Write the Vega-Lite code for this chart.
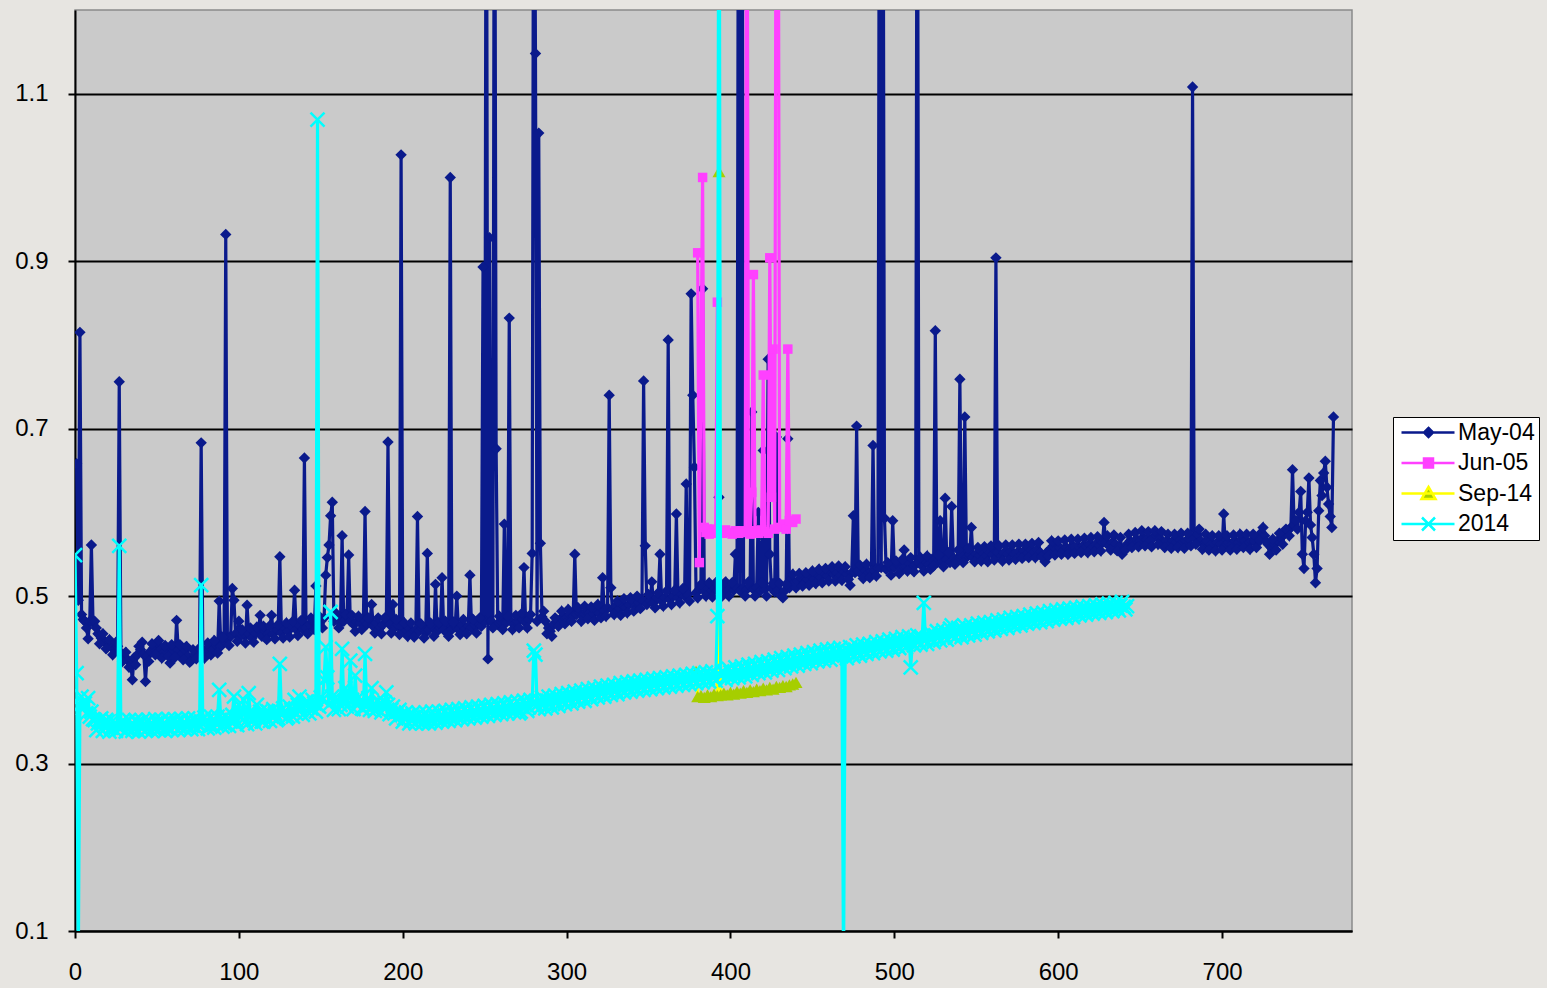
{
"$schema": "https://vega.github.io/schema/vega-lite/v6.json",
"width": 1277,
"height": 921,
"autosize": {"type": "none"},
"padding": {"left": 75, "top": 10, "right": 195, "bottom": 57},
"background": "#E7E5E1",
"config": {
  "view": {"fill": "#CACACA", "stroke": "#8A8A8A", "strokeWidth": 1.5},
  "font": "Liberation Sans",
  "axis": {"labelFont": "Liberation Sans", "labelFontSize": 24, "labelColor": "#000000", "domainColor": "#000000", "domainWidth": 2, "tickColor": "#000000", "tickWidth": 2, "tickSize": 7, "title": null}
},
"datasets": {
"may": [
{"x":1,"y":0.658},{"x":2,"y":0.495},{"x":3,"y":0.815},{"x":4,"y":0.478},{"x":5,"y":0.472},{"x":6,"y":0.47},{"x":7,"y":0.462},{"x":8,"y":0.449},{"x":9,"y":0.47},{"x":10,"y":0.561},{"x":11,"y":0.468},{"x":12,"y":0.47},{"x":14,"y":0.455},{"x":16,"y":0.45},{"x":18,"y":0.446},{"x":20,"y":0.442},{"x":22,"y":0.44},{"x":24,"y":0.436},{"x":26,"y":0.44},{"x":27,"y":0.756},{"x":28,"y":0.432},{"x":30,"y":0.428},{"x":32,"y":0.424},{"x":34,"y":0.42},{"x":35,"y":0.4},{"x":36,"y":0.426},{"x":38,"y":0.43},{"x":40,"y":0.436},{"x":41,"y":0.445},{"x":42,"y":0.43},{"x":43,"y":0.398},{"x":44,"y":0.428},{"x":46,"y":0.434},{"x":48,"y":0.438},{"x":50,"y":0.444},{"x":52,"y":0.436},{"x":54,"y":0.432},{"x":56,"y":0.438},{"x":58,"y":0.42},{"x":60,"y":0.434},{"x":62,"y":0.471},{"x":63,"y":0.436},{"x":65,"y":0.43},{"x":67,"y":0.436},{"x":69,"y":0.428},{"x":71,"y":0.423},{"x":73,"y":0.43},{"x":75,"y":0.434},{"x":77,"y":0.683},{"x":78,"y":0.432},{"x":80,"y":0.436},{"x":82,"y":0.44},{"x":84,"y":0.436},{"x":86,"y":0.442},{"x":88,"y":0.494},{"x":89,"y":0.44},{"x":91,"y":0.446},{"x":92,"y":0.932},{"x":93,"y":0.45},{"x":95,"y":0.452},{"x":96,"y":0.509},{"x":97,"y":0.495},{"x":98,"y":0.455},{"x":100,"y":0.47},{"x":101,"y":0.452},{"x":103,"y":0.456},{"x":105,"y":0.489},{"x":106,"y":0.455},{"x":108,"y":0.45},{"x":110,"y":0.456},{"x":112,"y":0.46},{"x":113,"y":0.477},{"x":114,"y":0.452},{"x":116,"y":0.458},{"x":118,"y":0.455},{"x":120,"y":0.477},{"x":121,"y":0.455},{"x":123,"y":0.46},{"x":125,"y":0.547},{"x":126,"y":0.456},{"x":128,"y":0.462},{"x":130,"y":0.458},{"x":132,"y":0.464},{"x":134,"y":0.507},{"x":135,"y":0.46},{"x":137,"y":0.465},{"x":139,"y":0.46},{"x":140,"y":0.665},{"x":141,"y":0.462},{"x":143,"y":0.466},{"x":145,"y":0.47},{"x":147,"y":0.512},{"x":148,"y":0.466},{"x":150,"y":0.47},{"x":152,"y":0.474},{"x":153,"y":0.525},{"x":154,"y":0.546},{"x":155,"y":0.561},{"x":156,"y":0.596},{"x":157,"y":0.612},{"x":158,"y":0.47},{"x":160,"y":0.475},{"x":162,"y":0.468},{"x":163,"y":0.572},{"x":164,"y":0.47},{"x":166,"y":0.476},{"x":167,"y":0.549},{"x":168,"y":0.47},{"x":170,"y":0.466},{"x":172,"y":0.47},{"x":174,"y":0.468},{"x":176,"y":0.472},{"x":177,"y":0.601},{"x":178,"y":0.466},{"x":180,"y":0.47},{"x":181,"y":0.49},{"x":182,"y":0.464},{"x":184,"y":0.468},{"x":186,"y":0.462},{"x":188,"y":0.466},{"x":190,"y":0.47},{"x":191,"y":0.684},{"x":192,"y":0.466},{"x":194,"y":0.49},{"x":195,"y":0.462},{"x":197,"y":0.466},{"x":199,"y":1.027},{"x":200,"y":0.462},{"x":202,"y":0.458},{"x":204,"y":0.462},{"x":206,"y":0.456},{"x":208,"y":0.46},{"x":209,"y":0.595},{"x":210,"y":0.458},{"x":212,"y":0.462},{"x":214,"y":0.456},{"x":215,"y":0.551},{"x":216,"y":0.46},{"x":218,"y":0.464},{"x":220,"y":0.514},{"x":221,"y":0.458},{"x":223,"y":0.462},{"x":224,"y":0.522},{"x":225,"y":0.46},{"x":227,"y":0.456},{"x":229,"y":1.0},{"x":230,"y":0.46},{"x":232,"y":0.464},{"x":233,"y":0.5},{"x":234,"y":0.46},{"x":236,"y":0.466},{"x":238,"y":0.46},{"x":240,"y":0.464},{"x":241,"y":0.525},{"x":242,"y":0.462},{"x":244,"y":0.466},{"x":246,"y":0.468},{"x":248,"y":0.464},{"x":249,"y":0.893},{"x":250,"y":0.47},{"x":251,"y":1.6},{"x":252,"y":0.425},{"x":253,"y":0.928},{"x":254,"y":0.47},{"x":256,"y":1.6},{"x":257,"y":0.676},{"x":258,"y":0.466},{"x":260,"y":0.47},{"x":262,"y":0.586},{"x":263,"y":0.468},{"x":265,"y":0.832},{"x":266,"y":0.47},{"x":268,"y":0.466},{"x":270,"y":0.47},{"x":272,"y":0.474},{"x":274,"y":0.534},{"x":275,"y":0.468},{"x":277,"y":0.472},{"x":279,"y":0.551},{"x":280,"y":1.6},{"x":281,"y":1.148},{"x":282,"y":0.47},{"x":283,"y":1.053},{"x":284,"y":0.563},{"x":285,"y":0.475},{"x":287,"y":0.47},{"x":289,"y":0.462},{"x":290,"y":0.458},{"x":292,"y":0.466},{"x":294,"y":0.47},{"x":296,"y":0.472},{"x":298,"y":0.476},{"x":300,"y":0.474},{"x":302,"y":0.478},{"x":304,"y":0.476},{"x":305,"y":0.55},{"x":306,"y":0.478},{"x":308,"y":0.48},{"x":310,"y":0.476},{"x":312,"y":0.482},{"x":314,"y":0.48},{"x":316,"y":0.478},{"x":318,"y":0.484},{"x":320,"y":0.48},{"x":322,"y":0.522},{"x":323,"y":0.482},{"x":325,"y":0.486},{"x":326,"y":0.74},{"x":327,"y":0.51},{"x":328,"y":0.484},{"x":330,"y":0.488},{"x":332,"y":0.484},{"x":334,"y":0.49},{"x":336,"y":0.486},{"x":338,"y":0.49},{"x":340,"y":0.494},{"x":342,"y":0.488},{"x":344,"y":0.492},{"x":346,"y":0.496},{"x":347,"y":0.757},{"x":348,"y":0.56},{"x":349,"y":0.49},{"x":351,"y":0.494},{"x":352,"y":0.517},{"x":353,"y":0.492},{"x":355,"y":0.498},{"x":357,"y":0.55},{"x":358,"y":0.494},{"x":360,"y":0.498},{"x":362,"y":0.806},{"x":363,"y":0.496},{"x":365,"y":0.5},{"x":367,"y":0.598},{"x":368,"y":0.498},{"x":370,"y":0.502},{"x":372,"y":0.5},{"x":373,"y":0.634},{"x":374,"y":0.502},{"x":376,"y":0.861},{"x":377,"y":0.74},{"x":378,"y":0.654},{"x":379,"y":0.504},{"x":381,"y":0.508},{"x":383,"y":0.867},{"x":384,"y":0.506},{"x":386,"y":0.51},{"x":388,"y":0.505},{"x":390,"y":0.51},{"x":392,"y":0.506},{"x":393,"y":0.618},{"x":394,"y":0.508},{"x":396,"y":0.512},{"x":398,"y":0.506},{"x":400,"y":0.51},{"x":402,"y":0.507},{"x":403,"y":0.55},{"x":404,"y":0.51},{"x":405,"y":1.6},{"x":406,"y":0.506},{"x":407,"y":1.6},{"x":408,"y":0.51},{"x":410,"y":0.508},{"x":412,"y":0.512},{"x":413,"y":0.72},{"x":414,"y":0.508},{"x":416,"y":0.51},{"x":417,"y":0.6},{"x":418,"y":0.506},{"x":420,"y":0.674},{"x":421,"y":0.508},{"x":423,"y":0.783},{"x":424,"y":0.55},{"x":425,"y":0.51},{"x":427,"y":0.505},{"x":428,"y":0.69},{"x":429,"y":0.508},{"x":431,"y":0.5},{"x":433,"y":0.506},{"x":435,"y":0.688},{"x":436,"y":0.51},{"x":437,"y":0.52},{"x":439,"y":0.516},{"x":441,"y":0.518},{"x":443,"y":0.522},{"x":445,"y":0.516},{"x":447,"y":0.52},{"x":449,"y":0.524},{"x":451,"y":0.52},{"x":453,"y":0.526},{"x":455,"y":0.522},{"x":457,"y":0.528},{"x":459,"y":0.524},{"x":461,"y":0.53},{"x":463,"y":0.526},{"x":465,"y":0.528},{"x":467,"y":0.524},{"x":469,"y":0.53},{"x":471,"y":0.526},{"x":473,"y":0.513},{"x":474,"y":0.528},{"x":475,"y":0.596},{"x":476,"y":0.528},{"x":477,"y":0.703},{"x":478,"y":0.53},{"x":480,"y":0.526},{"x":482,"y":0.532},{"x":484,"y":0.528},{"x":486,"y":0.53},{"x":487,"y":0.68},{"x":488,"y":0.53},{"x":490,"y":0.534},{"x":491,"y":1.6},{"x":492,"y":0.534},{"x":493,"y":1.6},{"x":494,"y":0.593},{"x":495,"y":0.532},{"x":497,"y":0.536},{"x":499,"y":0.59},{"x":500,"y":0.534},{"x":502,"y":0.538},{"x":504,"y":0.532},{"x":506,"y":0.555},{"x":507,"y":0.536},{"x":509,"y":0.54},{"x":511,"y":0.534},{"x":513,"y":0.538},{"x":514,"y":1.6},{"x":515,"y":0.54},{"x":517,"y":0.536},{"x":519,"y":0.542},{"x":521,"y":0.538},{"x":523,"y":0.544},{"x":525,"y":0.817},{"x":526,"y":0.54},{"x":528,"y":0.59},{"x":529,"y":0.542},{"x":531,"y":0.617},{"x":532,"y":0.544},{"x":534,"y":0.54},{"x":535,"y":0.607},{"x":536,"y":0.546},{"x":538,"y":0.542},{"x":540,"y":0.759},{"x":541,"y":0.548},{"x":543,"y":0.714},{"x":544,"y":0.546},{"x":546,"y":0.55},{"x":547,"y":0.582},{"x":548,"y":0.546},{"x":550,"y":0.55},{"x":552,"y":0.548},{"x":554,"y":0.552},{"x":556,"y":0.548},{"x":558,"y":0.552},{"x":560,"y":0.55},{"x":562,"y":0.904},{"x":563,"y":0.552},{"x":565,"y":0.548},{"x":567,"y":0.552},{"x":569,"y":0.55},{"x":571,"y":0.554},{"x":573,"y":0.55},{"x":575,"y":0.552},{"x":577,"y":0.548},{"x":579,"y":0.554},{"x":581,"y":0.55},{"x":583,"y":0.556},{"x":585,"y":0.552},{"x":587,"y":0.556},{"x":589,"y":0.552},{"x":591,"y":0.548},{"x":592,"y":0.541},{"x":593,"y":0.552},{"x":595,"y":0.556},{"x":597,"y":0.56},{"x":599,"y":0.556},{"x":601,"y":0.558},{"x":603,"y":0.554},{"x":605,"y":0.558},{"x":607,"y":0.556},{"x":609,"y":0.56},{"x":611,"y":0.558},{"x":613,"y":0.556},{"x":615,"y":0.56},{"x":617,"y":0.558},{"x":619,"y":0.562},{"x":621,"y":0.558},{"x":623,"y":0.562},{"x":625,"y":0.56},{"x":627,"y":0.564},{"x":628,"y":0.588},{"x":629,"y":0.564},{"x":631,"y":0.56},{"x":633,"y":0.564},{"x":635,"y":0.562},{"x":637,"y":0.558},{"x":639,"y":0.55},{"x":640,"y":0.556},{"x":642,"y":0.562},{"x":644,"y":0.566},{"x":646,"y":0.564},{"x":648,"y":0.568},{"x":650,"y":0.566},{"x":652,"y":0.57},{"x":654,"y":0.568},{"x":656,"y":0.566},{"x":658,"y":0.57},{"x":660,"y":0.572},{"x":662,"y":0.568},{"x":664,"y":0.564},{"x":666,"y":0.566},{"x":668,"y":0.562},{"x":670,"y":0.566},{"x":672,"y":0.564},{"x":674,"y":0.568},{"x":676,"y":0.564},{"x":678,"y":0.566},{"x":680,"y":0.568},{"x":682,"y":1.108},{"x":683,"y":0.57},{"x":685,"y":0.574},{"x":687,"y":0.566},{"x":689,"y":0.562},{"x":691,"y":0.566},{"x":693,"y":0.562},{"x":695,"y":0.56},{"x":697,"y":0.564},{"x":699,"y":0.562},{"x":701,"y":0.598},{"x":702,"y":0.56},{"x":704,"y":0.564},{"x":706,"y":0.562},{"x":708,"y":0.566},{"x":710,"y":0.564},{"x":712,"y":0.568},{"x":714,"y":0.566},{"x":716,"y":0.562},{"x":718,"y":0.566},{"x":720,"y":0.565},{"x":722,"y":0.57},{"x":724,"y":0.576},{"x":726,"y":0.572},{"x":728,"y":0.562},{"x":730,"y":0.558},{"x":732,"y":0.562},{"x":734,"y":0.566},{"x":736,"y":0.57},{"x":738,"y":0.574},{"x":740,"y":0.578},{"x":742,"y":0.582},{"x":743,"y":0.651},{"x":744,"y":0.585},{"x":745,"y":0.59},{"x":746,"y":0.58},{"x":747,"y":0.6},{"x":748,"y":0.625},{"x":749,"y":0.55},{"x":750,"y":0.533},{"x":751,"y":0.59},{"x":752,"y":0.6},{"x":753,"y":0.641},{"x":754,"y":0.585},{"x":755,"y":0.57},{"x":756,"y":0.55},{"x":757,"y":0.516},{"x":758,"y":0.533},{"x":759,"y":0.602},{"x":760,"y":0.638},{"x":761,"y":0.62},{"x":762,"y":0.647},{"x":763,"y":0.661},{"x":764,"y":0.63},{"x":765,"y":0.61},{"x":766,"y":0.595},{"x":767,"y":0.582},{"x":768,"y":0.714},
{"x":13,"y":0.462},{"x":15,"y":0.443},{"x":17,"y":0.455},{"x":19,"y":0.437},{"x":21,"y":0.448},{"x":23,"y":0.43},{"x":25,"y":0.445},{"x":29,"y":0.422},{"x":31,"y":0.433},{"x":33,"y":0.415},
{"x":37,"y":0.418},{"x":39,"y":0.44},{"x":45,"y":0.422},{"x":47,"y":0.443},{"x":49,"y":0.43},{"x":51,"y":0.447},{"x":53,"y":0.426},{"x":55,"y":0.441},{"x":57,"y":0.428},{"x":59,"y":0.442},{"x":61,"y":0.427},
{"x":64,"y":0.442},{"x":66,"y":0.424},{"x":68,"y":0.44},{"x":70,"y":0.421},{"x":72,"y":0.436},{"x":74,"y":0.425},{"x":76,"y":0.438},{"x":79,"y":0.426},{"x":81,"y":0.444},{"x":83,"y":0.43},{"x":85,"y":0.447},{"x":87,"y":0.432},{"x":90,"y":0.451},
{"x":94,"y":0.441},{"x":99,"y":0.446},{"x":102,"y":0.46},{"x":104,"y":0.444},{"x":107,"y":0.462},{"x":109,"y":0.445},{"x":111,"y":0.463},{"x":115,"y":0.464},{"x":117,"y":0.448},{"x":119,"y":0.465},{"x":122,"y":0.449},{"x":124,"y":0.466},{"x":127,"y":0.45},{"x":129,"y":0.468},{"x":131,"y":0.451},{"x":133,"y":0.47},{"x":136,"y":0.453},{"x":138,"y":0.471},{"x":142,"y":0.455},{"x":144,"y":0.474},{"x":146,"y":0.46},{"x":149,"y":0.476},{"x":151,"y":0.462},
{"x":159,"y":0.48},{"x":161,"y":0.462},{"x":165,"y":0.478},{"x":169,"y":0.477},{"x":171,"y":0.458},{"x":173,"y":0.476},{"x":175,"y":0.46},{"x":179,"y":0.474},{"x":183,"y":0.456},{"x":185,"y":0.474},{"x":187,"y":0.455},{"x":189,"y":0.474},{"x":193,"y":0.456},{"x":196,"y":0.472},{"x":198,"y":0.454},
{"x":201,"y":0.468},{"x":203,"y":0.452},{"x":205,"y":0.468},{"x":207,"y":0.451},{"x":211,"y":0.467},{"x":213,"y":0.45},{"x":217,"y":0.468},{"x":219,"y":0.452},{"x":222,"y":0.468},{"x":226,"y":0.47},{"x":228,"y":0.452},{"x":231,"y":0.469},{"x":235,"y":0.454},{"x":237,"y":0.472},{"x":239,"y":0.455},{"x":243,"y":0.472},{"x":245,"y":0.456},{"x":247,"y":0.474},
{"x":255,"y":0.462},{"x":259,"y":0.476},{"x":261,"y":0.46},{"x":264,"y":0.476},{"x":267,"y":0.46},{"x":269,"y":0.477},{"x":271,"y":0.462},{"x":273,"y":0.48},{"x":276,"y":0.462},{"x":278,"y":0.478},{"x":286,"y":0.482},{"x":288,"y":0.455},{"x":291,"y":0.452},{"x":293,"y":0.474},{"x":295,"y":0.464},{"x":297,"y":0.482},{"x":299,"y":0.467},{"x":301,"y":0.484},
{"x":303,"y":0.47},{"x":307,"y":0.486},{"x":309,"y":0.47},{"x":311,"y":0.488},{"x":313,"y":0.473},{"x":315,"y":0.487},{"x":317,"y":0.471},{"x":319,"y":0.49},{"x":321,"y":0.474},{"x":324,"y":0.476},{"x":329,"y":0.478},{"x":331,"y":0.494},{"x":333,"y":0.477},{"x":335,"y":0.497},{"x":337,"y":0.48},{"x":339,"y":0.498},{"x":341,"y":0.482},{"x":343,"y":0.5},{"x":345,"y":0.485},{"x":350,"y":0.502},{"x":354,"y":0.486},{"x":356,"y":0.504},{"x":359,"y":0.488},{"x":361,"y":0.506},{"x":364,"y":0.49},{"x":366,"y":0.507},{"x":369,"y":0.492},{"x":371,"y":0.509},{"x":375,"y":0.494},
{"x":380,"y":0.498},{"x":382,"y":0.514},{"x":385,"y":0.5},{"x":387,"y":0.516},{"x":389,"y":0.499},{"x":391,"y":0.516},{"x":395,"y":0.5},{"x":397,"y":0.517},{"x":399,"y":0.5},{"x":401,"y":0.516},{"x":409,"y":0.5},{"x":411,"y":0.517},{"x":415,"y":0.5},{"x":419,"y":0.516},{"x":422,"y":0.5},{"x":426,"y":0.515},{"x":430,"y":0.515},{"x":432,"y":0.498},{"x":434,"y":0.514},
{"x":438,"y":0.526},{"x":440,"y":0.51},{"x":442,"y":0.527},{"x":444,"y":0.512},{"x":446,"y":0.528},{"x":448,"y":0.513},{"x":450,"y":0.53},{"x":452,"y":0.515},{"x":454,"y":0.532},{"x":456,"y":0.516},{"x":458,"y":0.533},{"x":460,"y":0.518},{"x":462,"y":0.535},{"x":464,"y":0.518},{"x":466,"y":0.536},{"x":468,"y":0.519},{"x":470,"y":0.535},{"x":472,"y":0.52},
{"x":479,"y":0.537},{"x":481,"y":0.521},{"x":483,"y":0.538},{"x":485,"y":0.522},{"x":489,"y":0.524},{"x":496,"y":0.54},{"x":498,"y":0.525},{"x":501,"y":0.542},{"x":503,"y":0.527},{"x":505,"y":0.544},{"x":508,"y":0.53},{"x":510,"y":0.546},{"x":512,"y":0.529},{"x":516,"y":0.546},{"x":518,"y":0.53},{"x":520,"y":0.548},{"x":522,"y":0.532},{"x":524,"y":0.536},{"x":527,"y":0.549},{"x":530,"y":0.535},{"x":533,"y":0.552},{"x":537,"y":0.538},{"x":539,"y":0.555},{"x":542,"y":0.54},{"x":545,"y":0.557},{"x":549,"y":0.541},{"x":551,"y":0.558},{"x":553,"y":0.542},{"x":555,"y":0.559},{"x":557,"y":0.541},{"x":559,"y":0.56},{"x":561,"y":0.543},{"x":564,"y":0.56},{"x":566,"y":0.542},{"x":568,"y":0.561},{"x":570,"y":0.543},{"x":572,"y":0.561},{"x":574,"y":0.544},{"x":576,"y":0.562},{"x":578,"y":0.545},{"x":580,"y":0.562},{"x":582,"y":0.546},{"x":584,"y":0.563},{"x":586,"y":0.546},{"x":588,"y":0.564},{"x":590,"y":0.547},{"x":594,"y":0.548},{"x":596,"y":0.566},{"x":598,"y":0.549},{"x":600,"y":0.566},
{"x":602,"y":0.55},{"x":604,"y":0.567},{"x":606,"y":0.55},{"x":608,"y":0.568},{"x":610,"y":0.551},{"x":612,"y":0.568},{"x":614,"y":0.552},{"x":616,"y":0.569},{"x":618,"y":0.552},{"x":620,"y":0.57},{"x":622,"y":0.553},{"x":624,"y":0.571},{"x":626,"y":0.554},{"x":630,"y":0.572},{"x":632,"y":0.555},{"x":634,"y":0.573},{"x":636,"y":0.554},{"x":638,"y":0.57},{"x":641,"y":0.555},{"x":643,"y":0.574},{"x":645,"y":0.558},{"x":647,"y":0.576},{"x":649,"y":0.559},{"x":651,"y":0.578},{"x":653,"y":0.56},{"x":655,"y":0.577},{"x":657,"y":0.559},{"x":659,"y":0.578},{"x":661,"y":0.562},{"x":663,"y":0.577},{"x":665,"y":0.558},{"x":667,"y":0.574},{"x":669,"y":0.557},{"x":671,"y":0.574},{"x":673,"y":0.558},{"x":675,"y":0.575},{"x":677,"y":0.557},{"x":679,"y":0.575},{"x":681,"y":0.56},{"x":684,"y":0.562},{"x":686,"y":0.58},{"x":688,"y":0.556},{"x":690,"y":0.574},{"x":692,"y":0.555},{"x":694,"y":0.572},{"x":696,"y":0.554},{"x":698,"y":0.572},{"x":700,"y":0.555},{"x":703,"y":0.572},{"x":705,"y":0.555},{"x":707,"y":0.573},{"x":709,"y":0.556},{"x":711,"y":0.574},{"x":713,"y":0.558},{"x":715,"y":0.574},{"x":717,"y":0.556},{"x":719,"y":0.574},{"x":721,"y":0.558},{"x":723,"y":0.566},{"x":725,"y":0.582},{"x":727,"y":0.565},{"x":729,"y":0.55},{"x":731,"y":0.568},{"x":733,"y":0.555},{"x":735,"y":0.575},{"x":737,"y":0.562},{"x":739,"y":0.58},{"x":741,"y":0.572}
],
"jun": [
{"x":380,"y":0.91},{"x":381,"y":0.54},{"x":383,"y":1.0},{"x":384,"y":0.582},{"x":385,"y":0.576},{"x":386,"y":0.58},{"x":387,"y":0.574},{"x":388,"y":0.578},{"x":389,"y":0.575},{"x":390,"y":0.58},{"x":391,"y":0.576},{"x":392,"y":0.851},{"x":393,"y":0.578},{"x":395,"y":0.575},{"x":397,"y":0.579},{"x":399,"y":0.576},{"x":401,"y":0.574},{"x":403,"y":0.578},{"x":405,"y":0.575},{"x":407,"y":0.578},{"x":409,"y":0.576},{"x":410,"y":1.6},{"x":411,"y":0.578},{"x":412,"y":0.574},{"x":413,"y":0.624},{"x":414,"y":0.884},{"x":415,"y":0.578},{"x":417,"y":0.575},{"x":419,"y":0.579},{"x":420,"y":0.764},{"x":421,"y":0.577},{"x":423,"y":0.575},{"x":424,"y":0.904},{"x":425,"y":0.618},{"x":426,"y":0.795},{"x":427,"y":0.58},{"x":428,"y":1.6},{"x":429,"y":1.6},{"x":430,"y":0.582},{"x":432,"y":0.586},{"x":434,"y":0.58},{"x":435,"y":0.795},{"x":436,"y":0.59},{"x":438,"y":0.588},{"x":440,"y":0.592}
],
"sep": [
{"x":379,"y":0.41},{"x":380,"y":0.38},{"x":382,"y":0.381},{"x":384,"y":0.379},{"x":386,"y":0.382},{"x":388,"y":0.38},{"x":390,"y":0.383},{"x":392,"y":0.381},{"x":393,"y":1.007},{"x":394,"y":0.382},{"x":396,"y":0.384},{"x":398,"y":0.382},{"x":400,"y":0.385},{"x":402,"y":0.383},{"x":404,"y":0.386},{"x":406,"y":0.384},{"x":408,"y":0.387},{"x":410,"y":0.385},{"x":412,"y":0.388},{"x":414,"y":0.386},{"x":416,"y":0.389},{"x":418,"y":0.387},{"x":420,"y":0.39},{"x":422,"y":0.388},{"x":424,"y":0.391},{"x":426,"y":0.389},{"x":428,"y":0.392},{"x":430,"y":0.391},{"x":432,"y":0.393},{"x":434,"y":0.392},{"x":436,"y":0.394},{"x":438,"y":0.395},{"x":440,"y":0.397}
],
"y2014": [
{"x":0,"y":0.549},{"x":1,"y":0.408},{"x":2,"y":0.06},{"x":3,"y":0.37},{"x":4,"y":0.38},{"x":5,"y":0.366},{"x":6,"y":0.372},{"x":7,"y":0.36},{"x":8,"y":0.378},{"x":9,"y":0.356},{"x":10,"y":0.362},{"x":12,"y":0.352},{"x":14,"y":0.348},{"x":16,"y":0.354},{"x":18,"y":0.345},{"x":20,"y":0.35},{"x":22,"y":0.343},{"x":24,"y":0.348},{"x":26,"y":0.344},{"x":27,"y":0.56},{"x":28,"y":0.342},{"x":30,"y":0.348},{"x":32,"y":0.341},{"x":34,"y":0.346},{"x":36,"y":0.342},{"x":38,"y":0.349},{"x":40,"y":0.343},{"x":42,"y":0.347},{"x":44,"y":0.341},{"x":46,"y":0.346},{"x":48,"y":0.342},{"x":50,"y":0.348},{"x":52,"y":0.343},{"x":54,"y":0.347},{"x":56,"y":0.344},{"x":58,"y":0.35},{"x":60,"y":0.345},{"x":62,"y":0.349},{"x":64,"y":0.343},{"x":66,"y":0.348},{"x":68,"y":0.344},{"x":70,"y":0.35},{"x":72,"y":0.345},{"x":74,"y":0.349},{"x":76,"y":0.346},{"x":77,"y":0.513},{"x":78,"y":0.347},{"x":80,"y":0.351},{"x":82,"y":0.346},{"x":84,"y":0.352},{"x":86,"y":0.348},{"x":88,"y":0.388},{"x":89,"y":0.352},{"x":91,"y":0.348},{"x":93,"y":0.354},{"x":95,"y":0.35},{"x":97,"y":0.38},{"x":98,"y":0.352},{"x":100,"y":0.37},{"x":101,"y":0.355},{"x":103,"y":0.376},{"x":104,"y":0.35},{"x":106,"y":0.384},{"x":107,"y":0.356},{"x":109,"y":0.352},{"x":111,"y":0.37},{"x":112,"y":0.356},{"x":114,"y":0.35},{"x":116,"y":0.357},{"x":118,"y":0.362},{"x":120,"y":0.356},{"x":122,"y":0.36},{"x":124,"y":0.354},{"x":125,"y":0.419},{"x":126,"y":0.358},{"x":128,"y":0.362},{"x":130,"y":0.356},{"x":132,"y":0.364},{"x":134,"y":0.376},{"x":135,"y":0.36},{"x":137,"y":0.38},{"x":138,"y":0.364},{"x":140,"y":0.37},{"x":142,"y":0.374},{"x":144,"y":0.366},{"x":146,"y":0.372},{"x":148,"y":1.069},{"x":149,"y":0.368},{"x":151,"y":0.376},{"x":152,"y":0.4},{"x":153,"y":0.439},{"x":154,"y":0.403},{"x":155,"y":0.37},{"x":156,"y":0.481},{"x":157,"y":0.38},{"x":158,"y":0.364},{"x":160,"y":0.376},{"x":162,"y":0.37},{"x":163,"y":0.437},{"x":164,"y":0.374},{"x":165,"y":0.39},{"x":166,"y":0.368},{"x":168,"y":0.423},{"x":169,"y":0.376},{"x":171,"y":0.405},{"x":172,"y":0.37},{"x":174,"y":0.374},{"x":175,"y":0.366},{"x":177,"y":0.431},{"x":178,"y":0.37},{"x":180,"y":0.364},{"x":181,"y":0.39},{"x":182,"y":0.37},{"x":184,"y":0.366},{"x":186,"y":0.372},{"x":188,"y":0.368},{"x":190,"y":0.385},{"x":191,"y":0.37},{"x":193,"y":0.364},{"x":195,"y":0.36},{"x":197,"y":0.362},{"x":199,"y":0.358},{"x":201,"y":0.354},{"x":203,"y":0.356},{"x":205,"y":0.352},{"x":207,"y":0.355},{"x":209,"y":0.351},{"x":211,"y":0.354},{"x":213,"y":0.35},{"x":215,"y":0.355},{"x":217,"y":0.351},{"x":219,"y":0.356},{"x":221,"y":0.352},{"x":223,"y":0.357},{"x":225,"y":0.353},{"x":227,"y":0.358},{"x":229,"y":0.355},{"x":231,"y":0.359},{"x":233,"y":0.356},{"x":235,"y":0.36},{"x":237,"y":0.357},{"x":239,"y":0.361},{"x":241,"y":0.358},{"x":243,"y":0.362},{"x":245,"y":0.359},{"x":247,"y":0.364},{"x":249,"y":0.36},{"x":251,"y":0.365},{"x":253,"y":0.362},{"x":255,"y":0.366},{"x":257,"y":0.362},{"x":259,"y":0.367},{"x":261,"y":0.364},{"x":263,"y":0.368},{"x":265,"y":0.365},{"x":267,"y":0.369},{"x":269,"y":0.366},{"x":271,"y":0.36},{"x":273,"y":0.368},{"x":275,"y":0.37},{"x":277,"y":0.367},{"x":279,"y":0.372},{"x":280,"y":0.435},{"x":281,"y":0.43},{"x":282,"y":0.37},{"x":284,"y":0.374},{"x":286,"y":0.371},{"x":288,"y":0.375},{"x":290,"y":0.372},{"x":292,"y":0.377},{"x":294,"y":0.374},{"x":296,"y":0.378},{"x":298,"y":0.375},{"x":300,"y":0.379},{"x":302,"y":0.377},{"x":304,"y":0.381},{"x":306,"y":0.378},{"x":308,"y":0.382},{"x":310,"y":0.38},{"x":312,"y":0.384},{"x":314,"y":0.381},{"x":316,"y":0.385},{"x":318,"y":0.383},{"x":320,"y":0.387},{"x":322,"y":0.384},{"x":324,"y":0.388},{"x":326,"y":0.386},{"x":328,"y":0.389},{"x":330,"y":0.387},{"x":332,"y":0.391},{"x":334,"y":0.388},{"x":336,"y":0.392},{"x":338,"y":0.39},{"x":340,"y":0.393},{"x":342,"y":0.391},{"x":344,"y":0.394},{"x":346,"y":0.392},{"x":348,"y":0.396},{"x":350,"y":0.393},{"x":352,"y":0.397},{"x":354,"y":0.394},{"x":356,"y":0.398},{"x":358,"y":0.395},{"x":360,"y":0.399},{"x":362,"y":0.396},{"x":364,"y":0.4},{"x":366,"y":0.397},{"x":368,"y":0.401},{"x":370,"y":0.398},{"x":372,"y":0.402},{"x":374,"y":0.399},{"x":376,"y":0.403},{"x":378,"y":0.4},{"x":380,"y":0.404},{"x":382,"y":0.401},{"x":384,"y":0.405},{"x":386,"y":0.402},{"x":388,"y":0.406},{"x":390,"y":0.403},{"x":392,"y":0.476},{"x":393,"y":1.6},{"x":394,"y":0.405},{"x":396,"y":0.408},{"x":398,"y":0.405},{"x":400,"y":0.409},{"x":402,"y":0.406},{"x":404,"y":0.41},{"x":406,"y":0.408},{"x":408,"y":0.412},{"x":410,"y":0.409},{"x":412,"y":0.413},{"x":414,"y":0.411},{"x":416,"y":0.415},{"x":418,"y":0.412},{"x":420,"y":0.416},{"x":422,"y":0.414},{"x":424,"y":0.418},{"x":426,"y":0.416},{"x":428,"y":0.42},{"x":430,"y":0.418},{"x":432,"y":0.421},{"x":434,"y":0.419},{"x":436,"y":0.423},{"x":438,"y":0.421},{"x":440,"y":0.424},{"x":442,"y":0.422},{"x":444,"y":0.426},{"x":446,"y":0.423},{"x":448,"y":0.427},{"x":450,"y":0.425},{"x":452,"y":0.428},{"x":454,"y":0.426},{"x":456,"y":0.43},{"x":458,"y":0.427},{"x":460,"y":0.431},{"x":462,"y":0.429},{"x":464,"y":0.432},{"x":466,"y":0.43},{"x":468,"y":0.433},{"x":469,"y":0.05},{"x":470,"y":0.431},{"x":472,"y":0.434},{"x":474,"y":0.432},{"x":476,"y":0.436},{"x":478,"y":0.433},{"x":480,"y":0.437},{"x":482,"y":0.435},{"x":484,"y":0.438},{"x":486,"y":0.436},{"x":488,"y":0.44},{"x":490,"y":0.437},{"x":492,"y":0.441},{"x":494,"y":0.439},{"x":496,"y":0.442},{"x":498,"y":0.44},{"x":500,"y":0.444},{"x":502,"y":0.441},{"x":504,"y":0.445},{"x":506,"y":0.443},{"x":508,"y":0.446},{"x":510,"y":0.415},{"x":511,"y":0.444},{"x":513,"y":0.448},{"x":515,"y":0.446},{"x":517,"y":0.45},{"x":518,"y":0.492},{"x":519,"y":0.448},{"x":521,"y":0.452},{"x":523,"y":0.449},{"x":525,"y":0.453},{"x":527,"y":0.451},{"x":529,"y":0.455},{"x":531,"y":0.452},{"x":533,"y":0.456},{"x":535,"y":0.465},{"x":536,"y":0.454},{"x":538,"y":0.458},{"x":540,"y":0.456},{"x":542,"y":0.46},{"x":544,"y":0.457},{"x":546,"y":0.461},{"x":548,"y":0.459},{"x":550,"y":0.462},{"x":552,"y":0.46},{"x":554,"y":0.464},{"x":556,"y":0.461},{"x":558,"y":0.465},{"x":560,"y":0.463},{"x":562,"y":0.466},{"x":564,"y":0.464},{"x":566,"y":0.468},{"x":568,"y":0.465},{"x":570,"y":0.469},{"x":572,"y":0.467},{"x":574,"y":0.47},{"x":576,"y":0.468},{"x":578,"y":0.472},{"x":580,"y":0.469},{"x":582,"y":0.473},{"x":584,"y":0.471},{"x":586,"y":0.474},{"x":588,"y":0.472},{"x":590,"y":0.476},{"x":592,"y":0.473},{"x":594,"y":0.477},{"x":596,"y":0.475},{"x":598,"y":0.478},{"x":600,"y":0.476},{"x":602,"y":0.479},{"x":604,"y":0.477},{"x":606,"y":0.481},{"x":608,"y":0.478},{"x":610,"y":0.482},{"x":612,"y":0.48},{"x":614,"y":0.483},{"x":616,"y":0.481},{"x":618,"y":0.484},{"x":620,"y":0.482},{"x":622,"y":0.485},{"x":624,"y":0.483},{"x":626,"y":0.486},{"x":628,"y":0.484},{"x":630,"y":0.487},{"x":632,"y":0.485},{"x":634,"y":0.488},{"x":636,"y":0.486},{"x":638,"y":0.489},{"x":640,"y":0.487},{"x":642,"y":0.488},
{"x":11,"y":0.353},{"x":13,"y":0.34},{"x":15,"y":0.352},{"x":17,"y":0.339},{"x":19,"y":0.352},{"x":21,"y":0.338},{"x":23,"y":0.351},{"x":25,"y":0.339},{"x":29,"y":0.351},{"x":31,"y":0.338},{"x":33,"y":0.352},{"x":35,"y":0.339},{"x":37,"y":0.352},{"x":39,"y":0.338},{"x":41,"y":0.351},{"x":43,"y":0.339},{"x":45,"y":0.352},{"x":47,"y":0.339},{"x":49,"y":0.353},{"x":51,"y":0.34},{"x":53,"y":0.352},{"x":55,"y":0.339},{"x":57,"y":0.353},{"x":59,"y":0.34},{"x":61,"y":0.353},{"x":63,"y":0.34},{"x":65,"y":0.353},{"x":67,"y":0.341},{"x":69,"y":0.354},{"x":71,"y":0.341},{"x":73,"y":0.354},{"x":75,"y":0.341},{"x":79,"y":0.355},{"x":81,"y":0.342},{"x":83,"y":0.356},{"x":85,"y":0.343},{"x":87,"y":0.356},
{"x":90,"y":0.344},{"x":92,"y":0.357},{"x":94,"y":0.345},{"x":96,"y":0.358},{"x":99,"y":0.346},{"x":102,"y":0.36},{"x":105,"y":0.347},{"x":108,"y":0.361},{"x":110,"y":0.348},{"x":113,"y":0.362},{"x":115,"y":0.35},{"x":117,"y":0.363},{"x":119,"y":0.351},{"x":121,"y":0.365},{"x":123,"y":0.352},{"x":127,"y":0.366},{"x":129,"y":0.354},{"x":131,"y":0.368},{"x":133,"y":0.356},{"x":136,"y":0.37},{"x":139,"y":0.358},{"x":141,"y":0.374},{"x":143,"y":0.36},{"x":145,"y":0.376},{"x":147,"y":0.362},{"x":150,"y":0.379},{"x":159,"y":0.379},{"x":161,"y":0.365},{"x":167,"y":0.379},{"x":170,"y":0.365},{"x":173,"y":0.379},{"x":176,"y":0.365},{"x":179,"y":0.378},{"x":183,"y":0.363},{"x":185,"y":0.375},{"x":187,"y":0.361},{"x":189,"y":0.373},{"x":192,"y":0.359},{"x":194,"y":0.368},{"x":196,"y":0.354},{"x":198,"y":0.364},
{"x":200,"y":0.35},{"x":202,"y":0.361},{"x":204,"y":0.348},{"x":206,"y":0.36},{"x":208,"y":0.348},{"x":210,"y":0.36},{"x":212,"y":0.348},{"x":214,"y":0.361},{"x":216,"y":0.348},{"x":218,"y":0.362},{"x":220,"y":0.349},{"x":222,"y":0.362},{"x":224,"y":0.35},{"x":226,"y":0.363},{"x":228,"y":0.351},{"x":230,"y":0.364},{"x":232,"y":0.352},{"x":234,"y":0.365},{"x":236,"y":0.353},{"x":238,"y":0.366},{"x":240,"y":0.354},{"x":242,"y":0.367},{"x":244,"y":0.355},{"x":246,"y":0.368},{"x":248,"y":0.356},{"x":250,"y":0.369},{"x":252,"y":0.357},{"x":254,"y":0.37},{"x":256,"y":0.358},{"x":258,"y":0.371},{"x":260,"y":0.359},{"x":262,"y":0.372},{"x":264,"y":0.36},{"x":266,"y":0.373},{"x":268,"y":0.361},{"x":270,"y":0.374},{"x":272,"y":0.362},{"x":274,"y":0.375},{"x":276,"y":0.363},{"x":278,"y":0.376},
{"x":283,"y":0.365},{"x":285,"y":0.379},{"x":287,"y":0.366},{"x":289,"y":0.38},{"x":291,"y":0.367},{"x":293,"y":0.381},{"x":295,"y":0.369},{"x":297,"y":0.383},{"x":299,"y":0.371},{"x":301,"y":0.384},{"x":303,"y":0.372},{"x":305,"y":0.386},{"x":307,"y":0.374},{"x":309,"y":0.387},{"x":311,"y":0.375},{"x":313,"y":0.389},{"x":315,"y":0.377},{"x":317,"y":0.39},{"x":319,"y":0.379},{"x":321,"y":0.392},{"x":323,"y":0.38},{"x":325,"y":0.393},{"x":327,"y":0.382},{"x":329,"y":0.394},{"x":331,"y":0.383},{"x":333,"y":0.396},{"x":335,"y":0.385},{"x":337,"y":0.397},{"x":339,"y":0.386},{"x":341,"y":0.398},{"x":343,"y":0.387},{"x":345,"y":0.399},{"x":347,"y":0.388},{"x":349,"y":0.4},{"x":351,"y":0.389},{"x":353,"y":0.401},{"x":355,"y":0.39},{"x":357,"y":0.402},{"x":359,"y":0.391},{"x":361,"y":0.403},{"x":363,"y":0.392},{"x":365,"y":0.404},{"x":367,"y":0.393},{"x":369,"y":0.405},{"x":371,"y":0.394},{"x":373,"y":0.406},{"x":375,"y":0.395},{"x":377,"y":0.407},{"x":379,"y":0.396},{"x":381,"y":0.408},{"x":383,"y":0.397},{"x":385,"y":0.409},{"x":387,"y":0.398},{"x":389,"y":0.41},{"x":391,"y":0.399},
{"x":395,"y":0.41},{"x":397,"y":0.4},{"x":399,"y":0.413},{"x":401,"y":0.402},{"x":403,"y":0.415},{"x":405,"y":0.403},{"x":407,"y":0.416},{"x":409,"y":0.404},{"x":411,"y":0.418},{"x":413,"y":0.406},{"x":415,"y":0.419},{"x":417,"y":0.408},{"x":419,"y":0.421},{"x":421,"y":0.409},{"x":423,"y":0.422},{"x":425,"y":0.411},{"x":427,"y":0.424},{"x":429,"y":0.412},{"x":431,"y":0.426},{"x":433,"y":0.414},{"x":435,"y":0.427},{"x":437,"y":0.416},{"x":439,"y":0.429},{"x":441,"y":0.417},{"x":443,"y":0.43},{"x":445,"y":0.419},{"x":447,"y":0.432},{"x":449,"y":0.42},{"x":451,"y":0.433},{"x":453,"y":0.422},{"x":455,"y":0.435},{"x":457,"y":0.423},{"x":459,"y":0.436},{"x":461,"y":0.424},{"x":463,"y":0.437},{"x":465,"y":0.426},{"x":467,"y":0.438},
{"x":471,"y":0.426},{"x":473,"y":0.439},{"x":475,"y":0.428},{"x":477,"y":0.441},{"x":479,"y":0.429},{"x":481,"y":0.442},{"x":483,"y":0.431},{"x":485,"y":0.443},{"x":487,"y":0.432},{"x":489,"y":0.445},{"x":491,"y":0.434},{"x":493,"y":0.446},{"x":495,"y":0.435},{"x":497,"y":0.448},{"x":499,"y":0.436},{"x":501,"y":0.449},{"x":503,"y":0.438},{"x":505,"y":0.451},{"x":507,"y":0.439},{"x":509,"y":0.452},
{"x":512,"y":0.441},{"x":514,"y":0.453},{"x":516,"y":0.442},{"x":520,"y":0.443},{"x":522,"y":0.456},{"x":524,"y":0.445},{"x":526,"y":0.458},{"x":528,"y":0.447},{"x":530,"y":0.459},{"x":532,"y":0.448},{"x":534,"y":0.461},
{"x":537,"y":0.45},{"x":539,"y":0.462},{"x":541,"y":0.451},{"x":543,"y":0.464},{"x":545,"y":0.453},{"x":547,"y":0.465},{"x":549,"y":0.454},{"x":551,"y":0.467},{"x":553,"y":0.456},{"x":555,"y":0.468},{"x":557,"y":0.458},{"x":559,"y":0.469},{"x":561,"y":0.459},{"x":563,"y":0.471},{"x":565,"y":0.461},{"x":567,"y":0.472},{"x":569,"y":0.462},{"x":571,"y":0.474},{"x":573,"y":0.464},{"x":575,"y":0.475},{"x":577,"y":0.465},{"x":579,"y":0.476},{"x":581,"y":0.467},{"x":583,"y":0.478},{"x":585,"y":0.468},{"x":587,"y":0.479},{"x":589,"y":0.469},{"x":591,"y":0.48},{"x":593,"y":0.47},{"x":595,"y":0.482},{"x":597,"y":0.472},{"x":599,"y":0.483},{"x":601,"y":0.473},{"x":603,"y":0.484},{"x":605,"y":0.474},{"x":607,"y":0.485},{"x":609,"y":0.475},{"x":611,"y":0.486},{"x":613,"y":0.477},{"x":615,"y":0.487},{"x":617,"y":0.478},{"x":619,"y":0.488},{"x":621,"y":0.479},{"x":623,"y":0.489},{"x":625,"y":0.48},{"x":627,"y":0.49},{"x":629,"y":0.481},{"x":631,"y":0.491},{"x":633,"y":0.482},{"x":635,"y":0.492},{"x":637,"y":0.483},{"x":639,"y":0.493},{"x":641,"y":0.484}
]
},
"encoding": {
  "x": {"field": "x", "type": "quantitative", "scale": {"domain": [0, 779.3], "nice": false, "zero": false},
        "axis": {"values": [0, 100, 200, 300, 400, 500, 600, 700], "grid": false, "labelPadding": 22, "labelFlush": false, "labelOverlap": false}},
  "y": {"field": "y", "type": "quantitative", "scale": {"domain": [0.1, 1.2], "nice": false, "zero": false},
        "axis": {"values": [0.1, 0.3, 0.5, 0.7, 0.9, 1.1], "format": ".1f", "grid": true, "gridColor": "#000000", "gridWidth": 2, "gridOpacity": 1, "labelPadding": 20, "labelFlush": false, "labelOverlap": false}}
},
"layer": [
  {"data": {"name": "may"}, "mark": {"type": "line", "clip": true, "strokeWidth": 3.2, "interpolate": "linear"},
   "encoding": {"color": {"datum": "May-04", "type": "nominal",
     "scale": {"domain": ["May-04", "Jun-05", "Sep-14", "2014"], "range": ["#0A1A8C", "#FF40FF", "#FFFF00", "#00FFFF"]},
     "legend": {"title": null, "orient": "none", "legendX": 1318, "legendY": 407, "direction": "vertical",
       "fillColor": "#FFFFFF", "strokeColor": "#000000", "padding": 4,
       "labelFont": "Liberation Sans", "labelFontSize": 23, "labelColor": "#000000",
       "symbolSize": 100, "symbolOffset": 20, "labelOffset": 18, "rowPadding": 6.5, "symbolStrokeWidth": 2.5, "symbolOpacity": 1,
       "encode": {"symbols": {"update": {
         "shape": {"signal": "datum.value == 'May-04' ? 'M-5.4,0H5.2M0,-0.9L0.9,0L0,0.9L-0.9,0Z' : datum.value == 'Jun-05' ? 'M-5.4,0H5.2M-0.9,-0.9H0.9V0.9H-0.9Z' : datum.value == 'Sep-14' ? 'M-5.4,0H5.2M0,-1.3L1.4,1.1L-1.4,1.1Z' : 'M-5.4,0H5.2M-1.3,-1.3L1.3,1.3M-1.3,1.3L1.3,-1.3'"},
         "fill": {"signal": "datum.value == 'May-04' ? '#0A1A8C' : datum.value == 'Jun-05' ? '#FF40FF' : datum.value == 'Sep-14' ? '#A6CE00' : 'transparent'"},
         "stroke": {"signal": "datum.value == 'May-04' ? '#0A1A8C' : datum.value == 'Jun-05' ? '#FF40FF' : datum.value == 'Sep-14' ? '#FFFF00' : '#00FFFF'"}
       }}}
     }}}},
  {"data": {"name": "may"}, "mark": {"type": "point", "clip": true, "shape": "diamond", "filled": true, "size": 130, "color": "#0A1A8C", "opacity": 1}},
  {"data": {"name": "jun"}, "mark": {"type": "line", "clip": true, "strokeWidth": 3.2},
   "encoding": {"color": {"datum": "Jun-05", "type": "nominal"}}},
  {"data": {"name": "jun"}, "mark": {"type": "point", "clip": true, "shape": "square", "filled": true, "size": 90, "color": "#FF40FF", "opacity": 1}},
  {"data": {"name": "sep"}, "mark": {"type": "line", "clip": true, "strokeWidth": 3.2},
   "encoding": {"color": {"datum": "Sep-14", "type": "nominal"}}},
  {"data": {"name": "sep"}, "mark": {"type": "point", "clip": true, "shape": "triangle-up", "filled": true, "size": 170, "color": "#A6CE00", "opacity": 1}},
  {"data": {"name": "y2014"}, "mark": {"type": "line", "clip": true, "strokeWidth": 3.2},
   "encoding": {"color": {"datum": "2014", "type": "nominal"}}},
  {"data": {"name": "y2014"}, "mark": {"type": "point", "clip": true, "shape": "M-1,-1L1,1M-1,1L1,-1", "filled": false, "size": 196, "strokeWidth": 2.5, "color": "#00FFFF", "opacity": 1}}
]
}
